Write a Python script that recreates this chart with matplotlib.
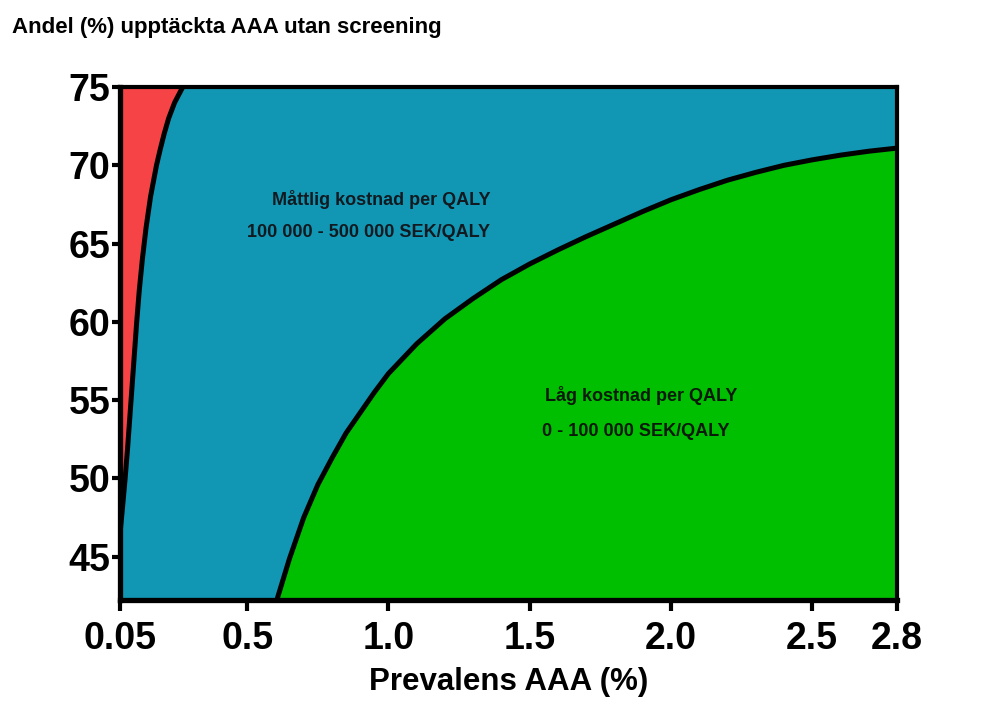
import numpy as np
import matplotlib
matplotlib.use("Agg")
import matplotlib.pyplot as plt

# boundary between high (red) and moderate (blue) cost per QALY
red_y = [42.24, 46.5, 48.0, 50.0, 52.0, 54.0, 56.0, 58.0, 60.0, 62.0, 64.0, 66.0,
         68.0, 70.0, 71.0, 72.0, 73.0, 74.0, 75.0]
red_x = [0.050, 0.050, 0.058, 0.068, 0.077, 0.085, 0.093, 0.101, 0.109, 0.118, 0.129, 0.142,
         0.158, 0.179, 0.192, 0.206, 0.222, 0.243, 0.272]

# boundary between moderate (blue) and low (green) cost per QALY
green_x = [0.605, 0.65, 0.70, 0.75, 0.80, 0.85, 0.90, 0.95, 1.00, 1.10, 1.20, 1.30,
           1.40, 1.50, 1.60, 1.70, 1.80, 1.90, 2.00, 2.10, 2.20, 2.30, 2.40, 2.50,
           2.60, 2.70, 2.80]
green_y = [42.24, 44.9, 47.5, 49.6, 51.3, 52.9, 54.2, 55.5, 56.7, 58.6, 60.2, 61.5,
           62.7, 63.7, 64.6, 65.45, 66.25, 67.05, 67.8, 68.45, 69.05, 69.55, 70.0, 70.35,
           70.65, 70.9, 71.1]

xticks = [0.05, 0.5, 1.0, 1.5, 2.0, 2.5, 2.8]
xticklabels = ["0.05", "0.5", "1.0", "1.5", "2.0", "2.5", "2.8"]
yticks = [45, 50, 55, 60, 65, 70, 75]

narrow = ["Liberation Sans Narrow", "Liberation Sans", "DejaVu Sans"]
plain = ["Liberation Sans", "DejaVu Sans"]

RED = "#F54346"
BLUE = "#1197B4"
GREEN = "#00BE00"

fig = plt.figure(figsize=(10.02, 7.11), dpi=100)
ax = fig.add_axes([0.1198, 0.1561, 0.7754, 0.7215])
ax.set_facecolor(BLUE)

ymin, ymax = 42.24, 75
ax.set_xlim(0.05, 2.8)
ax.set_ylim(ymin, ymax)

ax.fill_betweenx(red_y, 0.05, red_x, color=RED, lw=0)
ax.fill_between(green_x, green_y, ymin, color=GREEN, lw=0)
ax.plot(red_x, red_y, color="black", lw=3.6, solid_capstyle="butt",
        solid_joinstyle="round", zorder=3)
ax.plot(green_x, green_y, color="black", lw=3.6, solid_capstyle="butt",
        solid_joinstyle="round", zorder=3)

ax.text(1.36, 67.8, "Måttlig kostnad per QALY", ha="right", va="center",
        fontsize=13, fontweight="bold", family=narrow, color="#111a20")
ax.text(1.36, 65.7, "100 000 - 500 000 SEK/QALY", ha="right", va="center",
        fontsize=13, fontweight="bold", family=narrow, color="#111a20")
ax.text(1.553, 55.3, "Låg kostnad per QALY", ha="left", va="center",
        fontsize=13, fontweight="bold", family=narrow, color="#0a1a0a")
ax.text(1.544, 53.0, "0 - 100 000 SEK/QALY", ha="left", va="center",
        fontsize=13, fontweight="bold", family=narrow, color="#0a1a0a")

for side in ["left", "bottom"]:
    ax.spines[side].set_linewidth(3.8)
for side in ["top", "right"]:
    ax.spines[side].set_linewidth(3.0)

ax.set_xticks(xticks)
ax.set_xticklabels(xticklabels)
ax.set_yticks(yticks)
ax.tick_params(axis="y", length=6, width=3, pad=1)
ax.tick_params(axis="x", length=8, width=3, pad=7)
for lab in ax.get_xticklabels() + ax.get_yticklabels():
    lab.set_family(narrow)
    lab.set_fontweight("bold")
    lab.set_fontsize(27)

ax.set_xlabel("Prevalens AAA (%)", family=narrow, fontweight="bold", fontsize=22.5, labelpad=7)

fig.text(0.012, 0.961, "Andel (%) upptäckta AAA utan screening", family=plain,
         fontweight="bold", fontsize=16, va="center", ha="left")

fig.savefig("out.png", dpi=100, facecolor="white")
